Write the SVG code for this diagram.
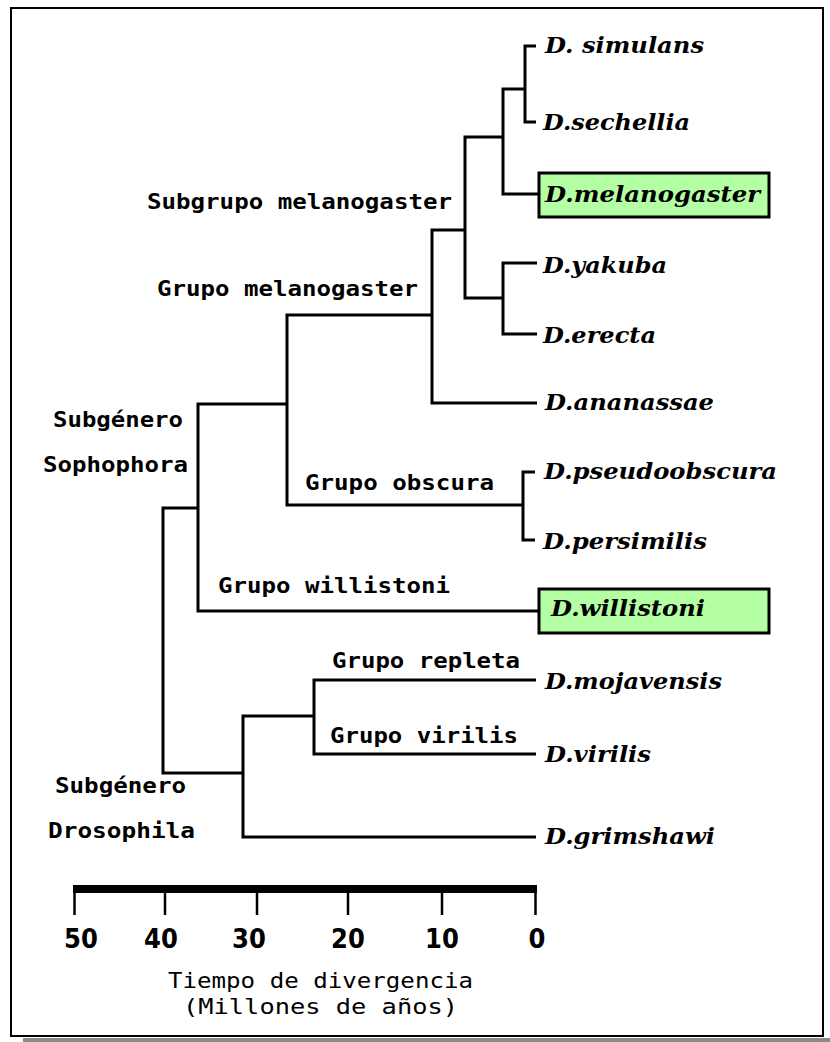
<svg xmlns="http://www.w3.org/2000/svg" width="830" height="1042" viewBox="0 0 830 1042">
<style>
.frame{fill:#fff;stroke:#000;stroke-width:2}
.shadow{fill:#8a8a8a}
.br{fill:none;stroke:#000;stroke-width:3;stroke-linejoin:miter;stroke-linecap:butt}
.box{fill:#b4ffa4;stroke:#000;stroke-width:3}
.sp{font-family:"DejaVu Serif",serif;font-weight:bold;font-style:italic;font-size:22px;fill:#000}
.lb{font-family:"DejaVu Sans Mono",monospace;font-weight:bold;font-size:22px;fill:#000}
.num{font-family:"DejaVu Sans",sans-serif;font-weight:bold;font-stretch:condensed;font-size:27px;text-anchor:middle;fill:#000}
.ax{font-family:"DejaVu Sans Mono",monospace;font-size:22px;fill:#000}
.tick{stroke:#000;stroke-width:2.5}
</style>
<rect class="shadow" x="23" y="1038" width="807" height="4"/>
<rect class="frame" x="11" y="8" width="812" height="1028"/>

<g id="connectors">
<path class="br" d="M536,46 H525 V122 H536"/>
<path class="br" d="M525,89 H503 V194 H538"/>
<path class="br" d="M503,137 H465 V298 H503"/>
<path class="br" d="M537,263 H503 V334 H537"/>
<path class="br" d="M465,230 H432 V403 H537"/>
<path class="br" d="M432,315 H287 V505 H523"/>
<path class="br" d="M535,472 H523 V540 H535"/>
<path class="br" d="M287,404 H198 V611 H538"/>
<path class="br" d="M198,508 H163 V773 H243"/>
<path class="br" d="M314,716 H243 V837 H536"/>
<path class="br" d="M536,680 H314 V754 H536"/>
</g>

<g id="labels">
<text class="lb" x="147" y="209" textLength="305" lengthAdjust="spacingAndGlyphs">Subgrupo melanogaster</text>
<text class="lb" x="157" y="296" textLength="261" lengthAdjust="spacingAndGlyphs">Grupo melanogaster</text>
<text class="lb" x="53" y="427" textLength="130" lengthAdjust="spacingAndGlyphs">Subgénero</text>
<text class="lb" x="43" y="472" textLength="145" lengthAdjust="spacingAndGlyphs">Sophophora</text>
<text class="lb" x="305" y="490" textLength="189" lengthAdjust="spacingAndGlyphs">Grupo obscura</text>
<text class="lb" x="218" y="593" textLength="232" lengthAdjust="spacingAndGlyphs">Grupo willistoni</text>
<text class="lb" x="332" y="668" textLength="188" lengthAdjust="spacingAndGlyphs">Grupo repleta</text>
<text class="lb" x="330" y="743" textLength="188" lengthAdjust="spacingAndGlyphs">Grupo virilis</text>
<text class="lb" x="55" y="793" textLength="131" lengthAdjust="spacingAndGlyphs">Subgénero</text>
<text class="lb" x="48" y="838" textLength="147" lengthAdjust="spacingAndGlyphs">Drosophila</text>
</g>

<g id="sp-simulans"><text class="sp" x="545" y="53" textLength="159" lengthAdjust="spacingAndGlyphs">D. simulans</text></g>
<g id="sp-sechellia"><text class="sp" x="543" y="130" textLength="147" lengthAdjust="spacingAndGlyphs">D.sechellia</text></g>
<g id="sp-melanogaster"><rect class="box" x="539" y="173" width="230" height="44"/><text class="sp" x="545" y="202" textLength="215" lengthAdjust="spacingAndGlyphs">D.melanogaster</text></g>
<g id="sp-yakuba"><text class="sp" x="543" y="273" textLength="124" lengthAdjust="spacingAndGlyphs">D.yakuba</text></g>
<g id="sp-erecta"><text class="sp" x="543" y="343" textLength="113" lengthAdjust="spacingAndGlyphs">D.erecta</text></g>
<g id="sp-ananassae"><text class="sp" x="545" y="410" textLength="169" lengthAdjust="spacingAndGlyphs">D.ananassae</text></g>
<g id="sp-pseudoobscura"><text class="sp" x="544" y="479" textLength="233" lengthAdjust="spacingAndGlyphs">D.pseudoobscura</text></g>
<g id="sp-persimilis"><text class="sp" x="543" y="549" textLength="164" lengthAdjust="spacingAndGlyphs">D.persimilis</text></g>
<g id="sp-willistoni"><rect class="box" x="539" y="589" width="230" height="44"/><text class="sp" x="551" y="616" textLength="154" lengthAdjust="spacingAndGlyphs">D.willistoni</text></g>
<g id="sp-mojavensis"><text class="sp" x="545" y="689" textLength="177" lengthAdjust="spacingAndGlyphs">D.mojavensis</text></g>
<g id="sp-virilis"><text class="sp" x="545" y="762" textLength="106" lengthAdjust="spacingAndGlyphs">D.virilis</text></g>
<g id="sp-grimshawi"><text class="sp" x="545" y="844" textLength="170" lengthAdjust="spacingAndGlyphs">D.grimshawi</text></g>

<g id="scale">
<rect x="73" y="885" width="464" height="8" fill="#000"/>
<line class="tick" x1="74.5" y1="890" x2="74.5" y2="915"/>
<line class="tick" x1="165" y1="890" x2="165" y2="915"/>
<line class="tick" x1="257" y1="890" x2="257" y2="915"/>
<line class="tick" x1="348" y1="890" x2="348" y2="915"/>
<line class="tick" x1="442" y1="890" x2="442" y2="915"/>
<line class="tick" x1="535.5" y1="890" x2="535.5" y2="915"/>
<text class="num" x="81" y="948">50</text>
<text class="num" x="161" y="948">40</text>
<text class="num" x="249" y="948">30</text>
<text class="num" x="348" y="948">20</text>
<text class="num" x="442" y="948">10</text>
<text class="num" x="537" y="948">0</text>
<text class="ax" x="168" y="988" textLength="305" lengthAdjust="spacingAndGlyphs">Tiempo de divergencia</text>
<text class="ax" x="183" y="1014" textLength="275" lengthAdjust="spacingAndGlyphs">(Millones de años)</text>
</g>
</svg>
